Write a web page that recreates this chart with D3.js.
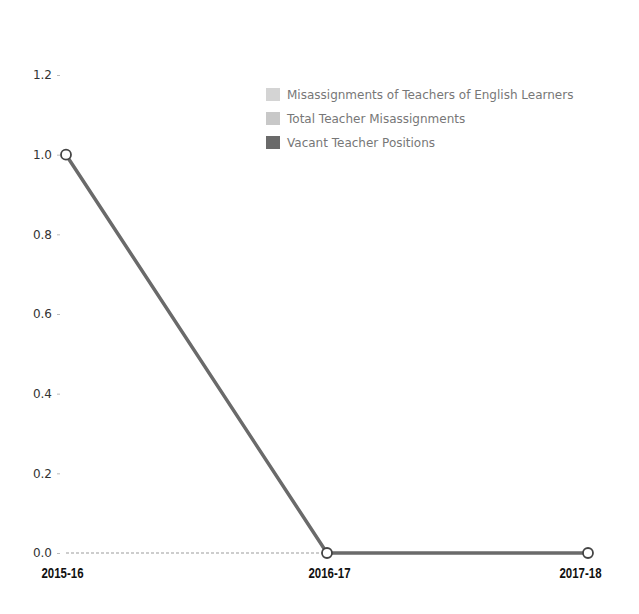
<!DOCTYPE html>
<html>
<head>
<meta charset="utf-8">
<script src="https://cdn.jsdelivr.net/npm/d3@7"></script>
<style>
  body { margin: 0; background: #fff; }
  svg { display: block; }
</style>
</head>
<body>
<svg id="chart" width="639" height="614"></svg>
<script>
// School years on the x axis
const years = ["2015-16", "2016-17", "2017-18"];

// Series values per school year
const elMisassignments = [0, 0, 0];
const totalMisassignments = [0, 0, 0];
const vacantPositions = [1, 0, 0];

// Series names, in legend order
const seriesNames = [
  "Misassignments of Teachers of English Learners",
  "Total Teacher Misassignments",
  "Vacant Teacher Positions"
];

// Y-axis ticks
const yTicks = [0, 0.2, 0.4, 0.6, 0.8, 1.0, 1.2];

const seriesColors = ["#d4d4d4", "#c8c8c8", "#6a6a6a"];
const seriesWidths = [1.5, 1.5, 3.5];

const series = [elMisassignments, totalMisassignments, vacantPositions].map((values, i) => ({
  name: seriesNames[i],
  values,
  color: seriesColors[i],
  width: seriesWidths[i],
  markers: i === 2
}));

const svg = d3.select("#chart");

const x = d3.scalePoint().domain(years).range([66, 588]);
const y = d3.scaleLinear().domain([0, 1.2]).range([553, 75]);

// Y axis labels with small tick dots
const yAxis = svg.append("g")
  .attr("transform", "translate(60,0)")
  .call(d3.axisLeft(y).tickValues(yTicks).tickFormat(d3.format(".1f")).tickSize(3).tickPadding(5));
yAxis.select(".domain").remove();
yAxis.selectAll(".tick line").attr("stroke", "#bbb");
yAxis.selectAll(".tick text")
  .attr("fill", "#333")
  .style("font-family", "Tahoma, 'DejaVu Sans', sans-serif")
  .style("font-size", "12px");

// X axis labels
const xAxis = svg.append("g")
  .attr("transform", "translate(0,564)")
  .call(d3.axisBottom(x).tickSize(0).tickPadding(4));
xAxis.select(".domain").remove();
xAxis.selectAll(".tick text")
  .attr("fill", "#111")
  .attr("x", (d, i) => [-4, 2, -8][i])
  .attr("textLength", 42)
  .attr("lengthAdjust", "spacingAndGlyphs")
  .style("font-family", "'Liberation Sans', Arial, sans-serif")
  .style("font-weight", "bold")
  .style("font-size", "14px");

// Lines
const line = d3.line()
  .x((d, i) => x(years[i]))
  .y(d => y(d));

svg.append("g").selectAll("path")
  .data(series)
  .join("path")
  .attr("d", d => line(d.values))
  .attr("fill", "none")
  .attr("stroke", d => d.color)
  .attr("stroke-width", d => d.width)
  .attr("stroke-dasharray", (d, i) => i < 2 ? "3,2" : null);

// Point markers on the vacant-positions series
svg.append("g").selectAll("g")
  .data(series.filter(d => d.markers))
  .join("g")
  .selectAll("circle")
  .data(d => d.values.map((v, i) => ({ v, i })))
  .join("circle")
  .attr("cx", d => x(years[d.i]))
  .attr("cy", d => y(d.v))
  .attr("r", 5)
  .attr("fill", "#fff")
  .attr("stroke", "#444")
  .attr("stroke-width", 1.8);

// Legend
const legend = svg.append("g").attr("transform", "translate(266,95)");
const items = legend.selectAll("g")
  .data(series)
  .join("g")
  .attr("transform", (d, i) => `translate(0,${i * 24})`);
items.append("rect")
  .attr("x", 0).attr("y", -7)
  .attr("width", 14).attr("height", 13)
  .attr("fill", d => d.color);
items.append("text")
  .attr("x", 21).attr("y", 0)
  .attr("dy", "0.35em")
  .attr("fill", "#777")
  .style("font-family", "Verdana, 'DejaVu Sans', sans-serif")
  .style("font-size", "12px")
  .text(d => d.name);
</script>
</body>
</html>
